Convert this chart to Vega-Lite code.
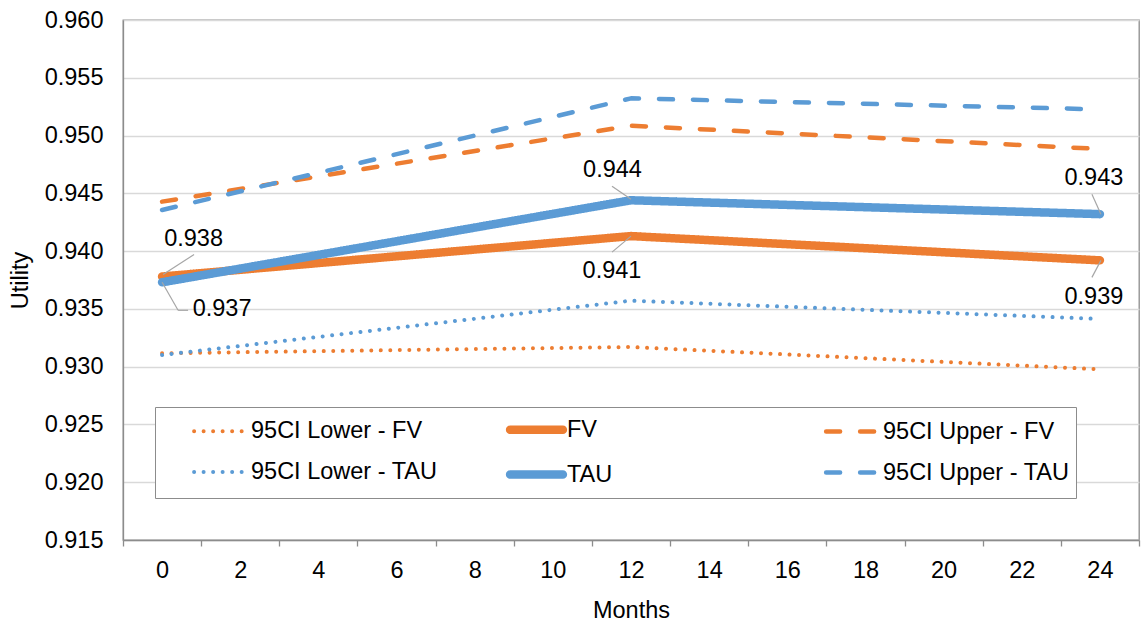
{
  "$schema": "https://vega.github.io/schema/vega-lite/v6.json",
  "width": 1016,
  "height": 520,
  "autosize": {"type": "none"},
  "padding": {"left": 123, "top": 20, "right": 4, "bottom": 88},
  "config": {
    "font": "Liberation Sans",
    "view": {"stroke": "#8c8c8c", "strokeWidth": 1.3},
    "text": {"font": "Liberation Sans", "fontSize": 23.5, "color": "#000000"}
  },
  "data": {
    "values": [
      {"series": "95CI Lower - FV", "month": 0, "value": 0.93116},
      {"series": "95CI Lower - FV", "month": 12, "value": 0.9317},
      {"series": "95CI Lower - FV", "month": 24, "value": 0.92977},
      {"series": "FV", "month": 0, "value": 0.9378},
      {"series": "FV", "month": 12, "value": 0.9413},
      {"series": "FV", "month": 24, "value": 0.9392},
      {"series": "95CI Upper - FV", "month": 0, "value": 0.94428},
      {"series": "95CI Upper - FV", "month": 12, "value": 0.95085},
      {"series": "95CI Upper - FV", "month": 24, "value": 0.94884},
      {"series": "95CI Lower - TAU", "month": 0, "value": 0.93101},
      {"series": "95CI Lower - TAU", "month": 12, "value": 0.93571},
      {"series": "95CI Lower - TAU", "month": 24, "value": 0.93413},
      {"series": "TAU", "month": 0, "value": 0.9373},
      {"series": "TAU", "month": 12, "value": 0.9444},
      {"series": "TAU", "month": 24, "value": 0.9432},
      {"series": "95CI Upper - TAU", "month": 0, "value": 0.94356},
      {"series": "95CI Upper - TAU", "month": 12, "value": 0.95322},
      {"series": "95CI Upper - TAU", "month": 24, "value": 0.95227}
    ]
  },
  "encoding": {
    "x": {
      "field": "month",
      "type": "quantitative",
      "scale": {"domain": [-1, 25], "nice": false, "zero": false},
      "axis": {
        "title": "Months",
        "values": [-1, 0, 1, 2, 3, 4, 5, 6, 7, 8, 9, 10, 11, 12, 13, 14, 15, 16, 17, 18, 19, 20, 21, 22, 23, 24, 25],
        "labelExpr": "datum.value >= 0 && datum.value % 2 === 0 ? datum.value : ''",
        "labelOverlap": false,
        "labelFlush": false,
        "grid": false,
        "tickSize": 6,
        "tickWidth": 1.3,
        "tickColor": "#8c8c8c",
        "tickOpacity": {"condition": {"test": "datum.value % 2 !== 0", "value": 1}, "value": 0},
        "domainColor": "#8c8c8c",
        "domainWidth": 1.3,
        "labelFont": "Liberation Sans",
        "labelFontSize": 23.5,
        "labelColor": "#000000",
        "labelPadding": 12,
        "titleFont": "Liberation Sans",
        "titleFontSize": 23.5,
        "titleFontWeight": "normal",
        "titleColor": "#000000",
        "titlePadding": 17
      }
    },
    "y": {
      "field": "value",
      "type": "quantitative",
      "scale": {"domain": [0.915, 0.96], "nice": false, "zero": false},
      "axis": {
        "title": "Utility",
        "values": [0.915, 0.92, 0.925, 0.93, 0.935, 0.94, 0.945, 0.95, 0.955, 0.96],
        "format": ".3f",
        "grid": true,
        "gridColor": "#d9d9d9",
        "gridWidth": 1.3,
        "ticks": false,
        "domainColor": "#8c8c8c",
        "domainWidth": 1.3,
        "labelFont": "Liberation Sans",
        "labelFontSize": 23.5,
        "labelColor": "#000000",
        "labelPadding": 20,
        "titleFont": "Liberation Sans",
        "titleFontSize": 23.5,
        "titleFontWeight": "normal",
        "titleColor": "#000000",
        "titlePadding": 12
      }
    }
  },
  "layer": [
    {
      "mark": {"type": "line", "strokeCap": "round", "strokeJoin": "round"},
      "encoding": {
        "detail": {"field": "series"},
        "color": {
          "field": "series",
          "type": "nominal",
          "scale": {
            "domain": ["95CI Lower - FV", "95CI Lower - TAU", "FV", "TAU", "95CI Upper - FV", "95CI Upper - TAU"],
            "range": ["#ED7D31", "#5B9BD5", "#ED7D31", "#5B9BD5", "#ED7D31", "#5B9BD5"]
          },
          "legend": {
            "title": null,
            "orient": "none",
            "legendX": 32,
            "legendY": 387,
            "columns": 3,
            "gridAlign": "all",
            "columnPadding": 39,
            "rowPadding": 10,
            "padding": 6,
            "symbolOffset": 43,
            "symbolType": "M-2.2,0H2.2",
            "symbolSize": 576,
            "labelOffset": 14,
            "labelFont": "Liberation Sans",
            "labelFontSize": 23.5,
            "labelColor": "#000000",
            "labelLimit": 400,
            "strokeColor": "#8c8c8c",
            "fillColor": "#ffffff",
            "encode": {"symbols": {"update": {"strokeCap": {"value": "round"}}}}
          }
        },
        "strokeDash": {
          "field": "series",
          "type": "nominal",
          "scale": {
            "domain": ["95CI Lower - FV", "95CI Lower - TAU", "FV", "TAU", "95CI Upper - FV", "95CI Upper - TAU"],
            "range": [[0.01, 9.5], [0.01, 9.5], [1, 0], [1, 0], [14, 20], [14, 20]]
          }
        },
        "strokeWidth": {
          "field": "series",
          "type": "nominal",
          "scale": {
            "type": "ordinal",
            "domain": ["95CI Lower - FV", "95CI Lower - TAU", "FV", "TAU", "95CI Upper - FV", "95CI Upper - TAU"],
            "range": [4, 4, 8.5, 8.5, 4.5, 4.5]
          }
        }
      }
    },
    {
      "transform": [{"filter": "datum.series === 'FV' && datum.month === 0"}],
      "mark": {"type": "rule", "color": "#a6a6a6", "strokeWidth": 1.2, "xOffset": 1, "yOffset": -2, "x2Offset": 32, "y2Offset": -22},
      "encoding": {"x2": {"field": "month"}, "y2": {"field": "value"}}
    },
    {
      "transform": [{"filter": "datum.series === 'TAU' && datum.month === 0"}],
      "mark": {"type": "rule", "color": "#a6a6a6", "strokeWidth": 1.2, "x2Offset": 16, "y2Offset": 28},
      "encoding": {"x2": {"field": "month"}, "y2": {"field": "value"}}
    },
    {
      "transform": [{"filter": "datum.series === 'TAU' && datum.month === 0"}],
      "mark": {"type": "rule", "color": "#a6a6a6", "strokeWidth": 1.2, "xOffset": 16, "yOffset": 28, "x2Offset": 26, "y2Offset": 28},
      "encoding": {"x2": {"field": "month"}, "y2": {"field": "value"}}
    },
    {
      "transform": [{"filter": "datum.series === 'TAU' && datum.month === 12"}],
      "mark": {"type": "rule", "color": "#a6a6a6", "strokeWidth": 1.2, "xOffset": -19, "yOffset": -14, "x2Offset": 0, "y2Offset": -1},
      "encoding": {"x2": {"field": "month"}, "y2": {"field": "value"}}
    },
    {
      "transform": [{"filter": "datum.series === 'FV' && datum.month === 12"}],
      "mark": {"type": "rule", "color": "#a6a6a6", "strokeWidth": 1.2, "x2Offset": -19, "y2Offset": 16},
      "encoding": {"x2": {"field": "month"}, "y2": {"field": "value"}}
    },
    {
      "transform": [{"filter": "datum.series === 'TAU' && datum.month === 24"}],
      "mark": {"type": "rule", "color": "#a6a6a6", "strokeWidth": 1.2, "xOffset": -8, "yOffset": -20, "x2Offset": 1, "y2Offset": 0},
      "encoding": {"x2": {"field": "month"}, "y2": {"field": "value"}}
    },
    {
      "transform": [{"filter": "datum.series === 'FV' && datum.month === 24"}],
      "mark": {"type": "rule", "color": "#a6a6a6", "strokeWidth": 1.2, "xOffset": 1, "x2Offset": -8, "y2Offset": 17},
      "encoding": {"x2": {"field": "month"}, "y2": {"field": "value"}}
    },
    {
      "transform": [{"filter": "datum.series === 'FV' && datum.month === 0"}],
      "mark": {"type": "text", "dx": 31.5, "dy": -38},
      "encoding": {"text": {"field": "value", "type": "quantitative", "format": ".3f"}}
    },
    {
      "transform": [{"filter": "datum.series === 'TAU' && datum.month === 0"}],
      "mark": {"type": "text", "dx": 60, "dy": 27},
      "encoding": {"text": {"field": "value", "type": "quantitative", "format": ".3f"}}
    },
    {
      "transform": [{"filter": "datum.series === 'TAU' && datum.month === 12"}],
      "mark": {"type": "text", "dx": -18.5, "dy": -30},
      "encoding": {"text": {"field": "value", "type": "quantitative", "format": ".3f"}}
    },
    {
      "transform": [{"filter": "datum.series === 'FV' && datum.month === 12"}],
      "mark": {"type": "text", "dx": -19, "dy": 35},
      "encoding": {"text": {"field": "value", "type": "quantitative", "format": ".3f"}}
    },
    {
      "transform": [{"filter": "datum.series === 'TAU' && datum.month === 24"}],
      "mark": {"type": "text", "dx": -6, "dy": -36},
      "encoding": {"text": {"field": "value", "type": "quantitative", "format": ".3f"}}
    },
    {
      "transform": [{"filter": "datum.series === 'FV' && datum.month === 24"}],
      "mark": {"type": "text", "dx": -6, "dy": 37},
      "encoding": {"text": {"field": "value", "type": "quantitative", "format": ".3f"}}
    }
  ]
}
